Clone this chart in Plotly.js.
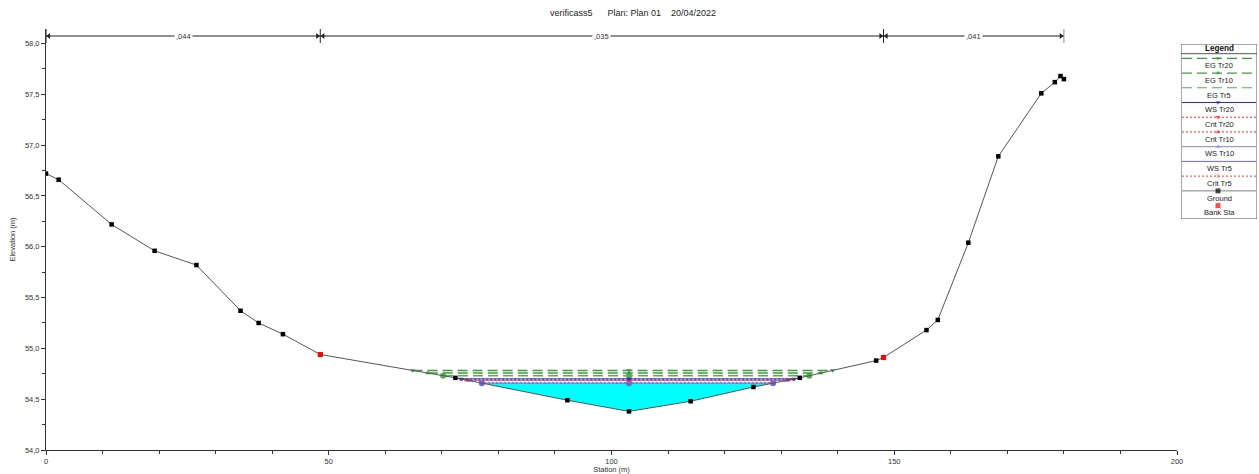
<!DOCTYPE html>
<html>
<head>
<meta charset="utf-8">
<script src="https://cdn.plot.ly/plotly-3.0.1.min.js"></script>
<style>
  html, body { margin:0; padding:0; background:#fff; }
  #chart { width:1259px; height:474px; }
</style>
</head>
<body>
<div id="chart"></div>
<script>
// ---------------- DATA ----------------
const chartTitle = 'verificass5\u00a0\u00a0\u00a0\u00a0\u00a0\u00a0Plan: Plan 01\u00a0\u00a0\u00a0\u00a020/04/2022';
const groundX = [0, 2.24, 11.6, 19.2, 26.6, 34.4, 37.6, 41.9, 48.5, 72.4, 92.2, 103.1, 114.0, 125.1, 133.3, 146.8, 148.1, 155.7, 157.7, 163.1, 168.4, 176.0, 178.4, 179.4, 180.0];
const groundY = [56.72, 56.66, 56.22, 55.96, 55.82, 55.37, 55.25, 55.14, 54.94, 54.71, 54.49, 54.38, 54.48, 54.62, 54.71, 54.88, 54.91, 55.18, 55.28, 56.04, 56.89, 57.51, 57.62, 57.68, 57.65];
const bankX = [48.5, 148.1];
const bankY = [54.94, 54.91];
const profileNames = ['EG Tr20', 'EG Tr10', 'EG Tr5', 'WS Tr20', 'Crit Tr20', 'Crit Tr10', 'WS Tr10', 'WS Tr5', 'Crit Tr5'];
const profileElev  = [54.783, 54.757, 54.731, 54.700, 54.697, 54.688, 54.683, 54.658, 54.662];
const nBounds = [0, 48.5, 148.1, 180.0];
const nValues = [0.044, 0.035, 0.041];
const legendNames = ['EG Tr20', 'EG Tr10', 'EG Tr5', 'WS Tr20', 'Crit Tr20', 'Crit Tr10', 'WS Tr10', 'WS Tr5', 'Crit Tr5', 'Ground', 'Bank Sta'];
const xTickVals = [0, 50, 100, 150, 200];
const yTickVals = [54.0, 54.5, 55.0, 55.5, 56.0, 56.5, 57.0, 57.5, 58.0];

// ---------------- STYLES ----------------
const FONT = 'Liberation Sans, Arial, sans-serif';
const styles = {
  'EG Tr20':   {color:'#3f9a3f', dash:'10px,5px', width:1.5, symbol:'triangle-down', size:4.5},
  'EG Tr10':   {color:'#3f9a3f', dash:'10px,5px', width:1.5, symbol:'triangle-up', size:4.5},
  'EG Tr5':    {color:'#5aaa5a', dash:'10px,5px', width:1.5, symbol:'circle', size:0},
  'WS Tr20':   {color:'#2727d0', dash:'solid', width:1, symbol:'triangle-down', size:4.5},
  'Crit Tr20': {color:'#ff2020', dash:'2px,2px', width:1, symbol:'triangle-down', size:4.5},
  'Crit Tr10': {color:'#ff2020', dash:'2px,2px', width:1, symbol:'triangle-up', size:4.5},
  'WS Tr10':   {color:'#8282e0', dash:'solid', width:1, symbol:'triangle-up', size:4.5},
  'WS Tr5':    {color:'#6a6ad8', dash:'solid', width:1, symbol:'circle', size:0},
  'Crit Tr5':  {color:'#ff3030', dash:'2px,2px', width:1, symbol:'line-ns-open', size:3},
  'Ground':    {color:'#808080', dash:'solid', width:1, symbol:'square', size:5, mcolor:'#000'},
  'Bank Sta':  {color:'rgba(0,0,0,0)', dash:'solid', width:0, symbol:'square', size:5, mcolor:'#ff0000'}
};

// ---------------- GEOMETRY ----------------
const iMin = groundY.indexOf(Math.min(...groundY));
const thalwegX = groundX[iMin];
function waterExtent(level) {
  let i = iMin;
  while (i > 0 && groundY[i - 1] < level) i--;
  const a = i - 1;
  const xL = groundX[a] + (groundY[a] - level) / (groundY[a] - groundY[i]) * (groundX[i] - groundX[a]);
  let j = iMin;
  while (j < groundX.length - 1 && groundY[j + 1] < level) j++;
  const b = j + 1;
  const xR = groundX[j] + (level - groundY[j]) / (groundY[b] - groundY[j]) * (groundX[b] - groundX[j]);
  return {xL, xR, i, j};
}

const traces = [];

// cyan fill under lowest water surface
const wsLevels = profileNames.map((n, k) => n.startsWith('WS') ? profileElev[k] : Infinity);
const fillLevel = Math.min(...wsLevels);
const ext = waterExtent(fillLevel);
const fx = [ext.xL].concat(groundX.slice(ext.i, ext.j + 1), [ext.xR]);
const fy = [fillLevel].concat(groundY.slice(ext.i, ext.j + 1), [fillLevel]);
traces.push({x: fx, y: fy, type:'scatter', mode:'lines', fill:'toself', fillcolor:'#00ffff',
  line:{width:0, color:'#00ffff'}, hoverinfo:'skip', showlegend:false});

// profile lines
const drawOrder = ['EG Tr5', 'EG Tr10', 'EG Tr20', 'Crit Tr5', 'WS Tr5', 'WS Tr10', 'Crit Tr10', 'Crit Tr20', 'WS Tr20'];
drawOrder.forEach(name => {
  const k = profileNames.indexOf(name);
  const lv = profileElev[k];
  const e = waterExtent(lv);
  const s = styles[name];
  traces.push({x:[e.xL, thalwegX, e.xR], y:[lv, lv, lv], type:'scatter', mode:'lines+markers', name,
    line:{color:s.color, dash:s.dash, width:s.width},
    marker:{symbol:s.symbol, size:s.size, color:s.color, line:{width: s.symbol.indexOf('open')>=0 ? 1 : 0, color:s.color}},
    showlegend:false});
});

// ground
traces.push({x:groundX, y:groundY, type:'scatter', mode:'lines+markers', name:'Ground',
  line:{color:'#555555', width:1}, marker:{symbol:'square', size:4.5, color:'#000'}, showlegend:false});
// bank stations
traces.push({x:bankX, y:bankY, type:'scatter', mode:'markers', name:'Bank Sta',
  marker:{symbol:'square', size:5, color:'#ff0000'}, showlegend:false});

// Manning's n bar
const nBarY = 58.074;
const arrowOffset = 0.5;   // station units, so the arrow tip touches the boundary
const shapes = [];
const annotations = [];
for (let k = 0; k < nValues.length; k++) {
  const x0 = nBounds[k], x1 = nBounds[k + 1];
  traces.push({x:[x0, x1], y:[nBarY, nBarY], type:'scatter', mode:'lines',
    line:{color:'#222', width:1}, hoverinfo:'skip', showlegend:false});
  traces.push({x:[x0 + arrowOffset, x1 - arrowOffset], y:[nBarY, nBarY], type:'scatter', mode:'markers',
    marker:{symbol:['triangle-left', 'triangle-right'], size:5, color:'#222'},
    hoverinfo:'skip', showlegend:false});
  annotations.push({x:(x0 + x1) / 2, y:nBarY, xref:'x', yref:'y', showarrow:false,
    text: nValues[k].toFixed(3).replace('0.', ','), bgcolor:'#fff', borderpad:1,
    font:{family:FONT, size:7.5, color:'#333'}});
}
nBounds.forEach((b, k) => {
  shapes.push({type:'line', xref:'x', yref:'y', x0:b, x1:b, y0:58.005, y1:58.143,
    line:{color: k === nBounds.length - 1 ? '#888' : '#222', width:1}});
});

// ---------------- LEGEND (custom box) ----------------
const LX0 = 1181, LX1 = 1257, LY0 = 44, LY1 = 219;
shapes.push({type:'rect', xref:'x2', yref:'y2', x0:LX0, x1:LX1, y0:LY0, y1:LY1, line:{color:'#555', width:1}, fillcolor:'rgba(0,0,0,0)'});
shapes.push({type:'line', xref:'x2', yref:'y2', x0:LX0, x1:LX1, y0:53.7, y1:53.7, line:{color:'#555', width:1}});
annotations.push({x:(LX0 + LX1) / 2, y:48.6, xref:'x2', yref:'y2', showarrow:false, text:'<b>Legend</b>',
  font:{family:FONT, size:8.2, color:'#111'}});
legendNames.forEach((name, k) => {
  const ly = 58.3 + k * 14.73;
  const s = styles[name];
  const mid = (LX0 + LX1) / 2 - 1;
  traces.push({x:[LX0 + 1, mid, LX1 - 1], y:[ly, ly, ly], xaxis:'x2', yaxis:'y2', type:'scatter',
    mode: name === 'Bank Sta' ? 'markers' : 'lines+markers',
    line:{color:s.color, dash:s.dash, width:Math.min(s.width, 1.2)},
    marker:{symbol:s.symbol, size:[0, s.size, 0], color:s.mcolor || s.color,
      line:{width: s.symbol.indexOf('open')>=0 ? 1 : 0, color:s.mcolor || s.color}},
    hoverinfo:'skip', showlegend:false});
  annotations.push({x:mid + 1, y:ly + 7.3, xref:'x2', yref:'y2', showarrow:false, text:name,
    font:{family:FONT, size:7.5, color:'#222'}});
});

// ---------------- LAYOUT ----------------
const W = 1259, H = 474, ML = 46, MR = 0, MT = 29, MB = 24;
const pw = W - ML - MR, ph = H - MT - MB;
const px2x = px => (px - ML) / pw;
const py2y = py => (H - MB - py) / ph;

const axisCommon = {showgrid:false, zeroline:false, showline:true, linecolor:'#333', linewidth:1,
  ticks:'outside', ticklen:4, tickcolor:'#333', tickfont:{family:FONT, size:7.5, color:'#333'}};

const layout = {
  width:W, height:H,
  margin:{l:ML, r:MR, t:MT, b:MB, pad:0},
  paper_bgcolor:'#fff', plot_bgcolor:'#fff',
  separators:',.',
  showlegend:false,
  title:{text:chartTitle, x:633 / W, xanchor:'center', y:1 - 13 / H, yanchor:'middle',
    font:{family:FONT, size:9, color:'#222'}},
  xaxis: Object.assign({}, axisCommon, {
    domain:[0, px2x(1177)], range:[0, 200], tickmode:'array', tickvals:xTickVals,
    ticktext:xTickVals.map(v => String(v)),
    minor:{dtick:10, ticks:'outside', ticklen:3, tickcolor:'#333'},
    title:{text:'Station (m)', font:{family:FONT, size:7.5, color:'#333'}, standoff:4}
  }),
  yaxis: Object.assign({}, axisCommon, {
    range:[54, 58.143], tickmode:'array', tickvals:yTickVals,
    ticktext:yTickVals.map(v => v.toFixed(1).replace('.', ',')),
    minor:{dtick:0.25, ticks:'outside', ticklen:3, tickcolor:'#333'},
    title:{text:'Elevation (m)', font:{family:FONT, size:7.5, color:'#333'}, standoff:8}
  }),
  xaxis2:{domain:[px2x(LX0), px2x(LX1)], range:[LX0, LX1], visible:false, fixedrange:true, anchor:'y2'},
  yaxis2:{domain:[py2y(LY1), py2y(LY0)], range:[LY1, LY0], visible:false, fixedrange:true, anchor:'x2'},
  shapes, annotations
};

Plotly.newPlot('chart', traces, layout, {displayModeBar:false, staticPlot:true});
</script>
</body>
</html>
